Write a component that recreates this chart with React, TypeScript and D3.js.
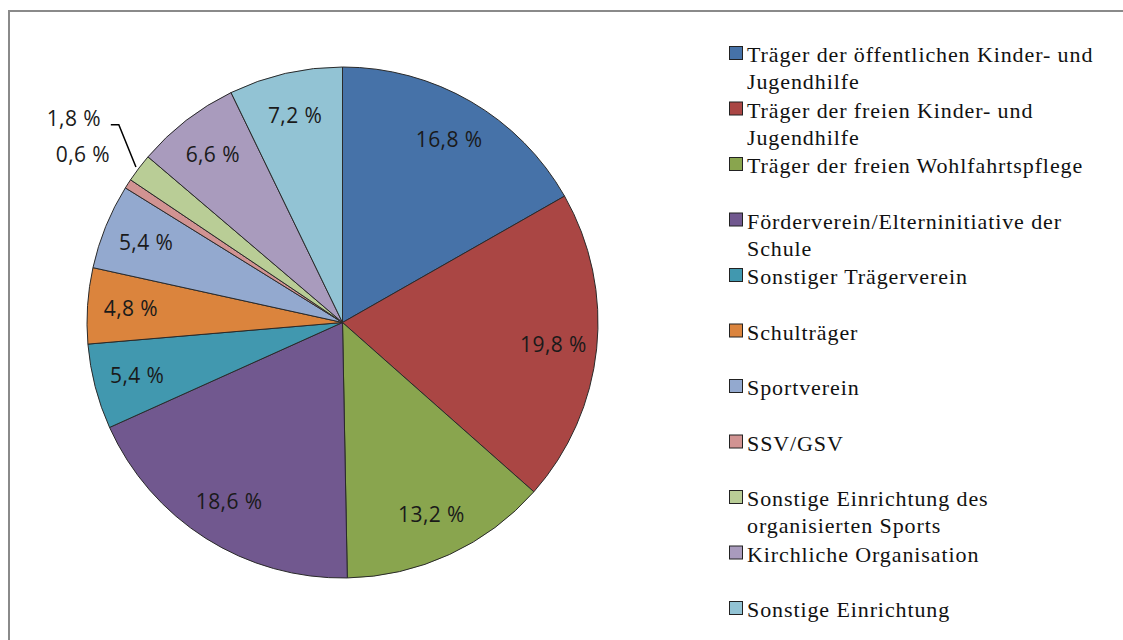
import React, { useRef, useEffect } from "react";
import * as d3 from "d3";

const categories = [
  "Träger der öffentlichen Kinder- und Jugendhilfe",
  "Träger der freien Kinder- und Jugendhilfe",
  "Träger der freien Wohlfahrtspflege",
  "Förderverein/Elterninitiative der Schule",
  "Sonstiger Trägerverein",
  "Schulträger",
  "Sportverein",
  "SSV/GSV",
  "Sonstige Einrichtung des organisierten Sports",
  "Kirchliche Organisation",
  "Sonstige Einrichtung",
];

// legend lines as shown in the chart
const legendLines = [
  ["Träger der öffentlichen Kinder- und", "Jugendhilfe"],
  ["Träger der freien Kinder- und", "Jugendhilfe"],
  ["Träger der freien Wohlfahrtspflege"],
  ["Förderverein/Elterninitiative der", "Schule"],
  ["Sonstiger Trägerverein"],
  ["Schulträger"],
  ["Sportverein"],
  ["SSV/GSV"],
  ["Sonstige Einrichtung des", "organisierten Sports"],
  ["Kirchliche Organisation"],
  ["Sonstige Einrichtung"],
];

const values = [16.8, 19.8, 13.2, 18.6, 5.4, 4.8, 5.4, 0.6, 1.8, 6.6, 7.2];

const colors = [
  "#4672a8",
  "#aa4644",
  "#89a54e",
  "#71588f",
  "#4198af",
  "#db843d",
  "#93a9cf",
  "#d19392",
  "#b9cd96",
  "#a99bbd",
  "#92c3d4",
];

type Slice = { key: string; value: number; i: number };

const App = () => {
  const ref = useRef<SVGSVGElement>(null);

  useEffect(() => {
    const width = 1123;
    const height = 640;
    const cx = 342.5;
    const cy = 322.5;
    const radius = 255.5;

    const svg = d3.select(ref.current).attr("width", width).attr("height", height);
    svg.selectAll("*").remove();

    // chart frame
    svg
      .append("rect")
      .attr("x", 9)
      .attr("y", 11)
      .attr("width", width + 20)
      .attr("height", height + 20)
      .attr("fill", "white")
      .attr("stroke", "#8a8a8a")
      .attr("stroke-width", 2);

    const color = d3.scaleOrdinal<string, string>().domain(categories).range(colors);

    const pie = d3
      .pie<Slice>()
      .sort(null)
      .value((d) => d.value);

    const data_ready = pie(values.map((value, i) => ({ key: categories[i], value, i })));

    const arc = d3.arc<d3.PieArcDatum<Slice>>().innerRadius(0).outerRadius(radius);
    const labelArc = d3
      .arc<d3.PieArcDatum<Slice>>()
      .innerRadius(radius * 0.83)
      .outerRadius(radius * 0.83);

    const g = svg.append("g").attr("transform", `translate(${cx}, ${cy})`);

    g.selectAll("path")
      .data(data_ready)
      .enter()
      .append("path")
      .attr("d", arc)
      .attr("fill", (d) => color(d.data.key))
      .attr("stroke", "#2a2a2a")
      .style("stroke-width", "1px");

    const fmt = (v: number) => `${v.toFixed(1).replace(".", ",")} %`;

    // position of a label along the slice's middle angle
    const polar = (d: d3.PieArcDatum<Slice>, r: number) => {
      const a = (d.startAngle + d.endAngle) / 2;
      return [Math.sin(a) * r, -Math.cos(a) * r];
    };

    data_ready.forEach((d) => {
      let pos: number[];
      if (d.data.value < 1) {
        pos = polar(d, radius * 1.21);
      } else if (d.data.value < 2) {
        pos = polar(d, radius * 1.32);
        const edge = polar(d, radius);
        const lx = pos[0] + 37;
        const ly = pos[1] + 6;
        g.append("path")
          .attr("d", `M${lx},${ly}L${lx + 8},${ly}L${edge[0] - 3},${edge[1] - 1}`)
          .attr("fill", "none")
          .attr("stroke", "#000")
          .attr("stroke-width", 1.5);
      } else {
        pos = labelArc.centroid(d);
      }
      g.append("text")
        .attr("x", pos[0])
        .attr("y", pos[1])
        .attr("dy", "0.35em")
        .attr("text-anchor", "middle")
        .style("font-family", "'Open Sans', sans-serif")
        .style("font-size", "21px")
        .style("letter-spacing", "0.4px")
        .attr("fill", "#1a1a1a")
        .text(fmt(d.data.value));
    });

    // Legend
    const legendG = svg
      .selectAll(".legend")
      .data(data_ready)
      .enter()
      .append("g")
      .attr("class", "legend")
      .attr("transform", (d, i) => `translate(729, ${62 + i * 55.5})`);

    legendG
      .append("rect")
      .attr("x", 0.5)
      .attr("y", -15.5)
      .attr("width", 13)
      .attr("height", 13)
      .attr("fill", (d) => color(d.data.key))
      .attr("stroke", "#222")
      .attr("stroke-width", 1);

    legendG.each(function (d) {
      const t = d3
        .select(this)
        .append("text")
        .attr("x", 18)
        .attr("y", 0)
        .style("font-family", "'Liberation Serif', 'Times New Roman', serif")
        .style("font-size", "22px")
        .style("letter-spacing", "0.9px")
        .attr("fill", "#111");
      legendLines[d.data.i].forEach((line, k) => {
        t.append("tspan")
          .attr("x", 18)
          .attr("dy", k === 0 ? 0 : 27)
          .text(line);
      });
    });
  }, []);

  return (
    <svg
      ref={ref}
      style={{ position: "absolute", left: 0, top: 0, display: "block" }}
    ></svg>
  );
};

export default App;
